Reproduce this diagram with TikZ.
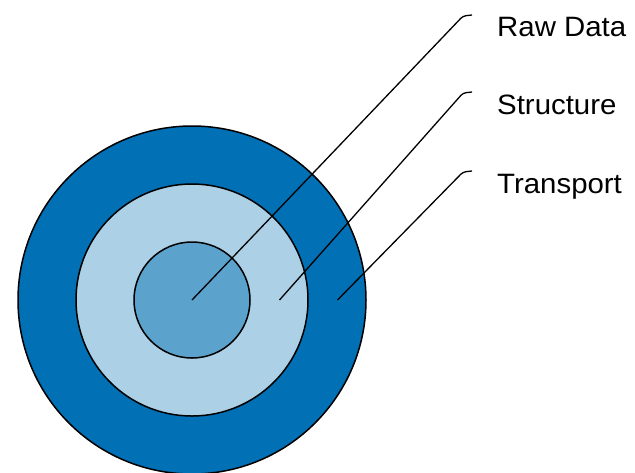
\documentclass[tikz,border=0pt]{standalone}
\usepackage{fontspec}
\setmainfont[FakeStretch=1.05]{Liberation Sans}
\definecolor{outerblue}{RGB}{1,112,180}
\definecolor{midblue}{RGB}{172,208,229}
\definecolor{innerblue}{RGB}{91,162,205}
\begin{document}
\begin{tikzpicture}[x=1pt,y=-1pt,
  ring/.style={circle,draw=black,line width=1.5pt,inner sep=0pt,minimum size=#1},
  leader/.style={draw=black,line width=1.3pt,rounded corners=3pt},
  lbl/.style={anchor=base west,inner sep=0pt,font=\fontsize{28}{28}\selectfont}]
\useasboundingbox (0,0) rectangle (635,472);
\node[ring=348pt,fill=outerblue] (outer) at (192,300) {};
\node[ring=232pt,fill=midblue] (mid) at (192,300) {};
\node[ring=116pt,fill=innerblue] (inner) at (192,300) {};
\coordinate (s1) at (192,300);
\coordinate (s2) at (279.5,300);
\coordinate (s3) at (337.5,300);
\coordinate (c1) at (463,16);
\coordinate (c2) at (463,93);
\coordinate (c3) at (463,172);
\coordinate (e1) at (472,15);
\coordinate (e2) at (472,92);
\coordinate (e3) at (472,171);
\draw[leader] (s1) -- (c1) -- (e1);
\draw[leader] (s2) -- (c2) -- (e2);
\draw[leader] (s3) -- (c3) -- (e3);
\node[lbl] (raw) at (497,36.5) {Raw Data};
\node[lbl] (str) at (497,114.5) {Structure};
\node[lbl] (tra) at (497,193) {Transport};
\end{tikzpicture}
\end{document}
